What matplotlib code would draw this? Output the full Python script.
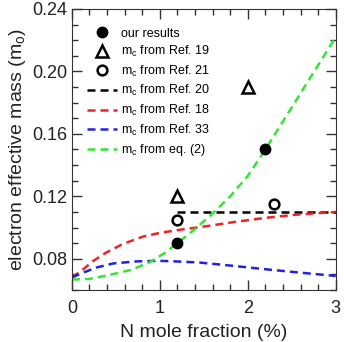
import numpy as np
import matplotlib
matplotlib.use('Agg')
import matplotlib.pyplot as plt
from matplotlib.ticker import MultipleLocator

plt.rcParams['font.family'] = 'Liberation Sans'
plt.rcParams['mathtext.default'] = 'regular'

# our results
ours_x = [1.2, 2.2]
ours_y = [0.090, 0.150]
# Ref. 19 (triangles)
ref19_x = [1.2, 2.0]
ref19_y = [0.120, 0.190]
# Ref. 21 (open circles)
ref21_x = [1.2, 2.3]
ref21_y = [0.105, 0.115]
# Ref. 20 (black dashed)
ref20_x = [1.2, 3.0]
ref20_y = [0.110, 0.110]
# Ref. 18 (red dashed)
ref18_x = [0.0, 0.13, 0.24, 0.39, 0.58, 0.81, 1.0, 1.22, 1.45, 1.83, 2.2, 2.58, 3.0]
ref18_y = [0.068, 0.0733, 0.0785, 0.084, 0.0895, 0.0942, 0.0966, 0.0985, 0.1002, 0.1034, 0.1062, 0.1084, 0.110]
# Ref. 33 (blue dashed)
ref33_x = [0.0, 0.13, 0.28, 0.47, 0.73, 0.96, 1.11, 1.45, 1.83, 2.2, 2.58, 3.0]
ref33_y = [0.068, 0.0712, 0.0744, 0.077, 0.0783, 0.0787, 0.0785, 0.0776, 0.0755, 0.0733, 0.0712, 0.069]
# eq. (2) (green dashed)
eq2_x = [0.0, 0.2, 0.43, 0.66, 0.88, 1.05, 1.2, 1.4, 1.6, 1.8, 2.0, 2.2, 2.4, 2.6, 2.8, 3.0]
eq2_y = [0.0667, 0.0671, 0.0697, 0.0727, 0.0776, 0.0835, 0.090, 0.099, 0.109, 0.120, 0.133, 0.150, 0.168, 0.186, 0.204, 0.222]

fig = plt.figure(figsize=(3.44, 3.42), dpi=100)
ax = fig.add_axes([0.209, 0.152, 0.767, 0.822])

dash = dict(linestyle=(0, (3.2, 2.0)), linewidth=1.8)
ax.plot(ours_x, ours_y, 'o', color='black', markersize=7.5, label='our results', zorder=5)
ax.plot(ref19_x, ref19_y, '^', color='black', markerfacecolor='none', markeredgewidth=1.8,
        markersize=8, label='m$_c$ from Ref. 19')
ax.plot(ref21_x, ref21_y, 'o', color='black', markerfacecolor='none', markeredgewidth=1.8,
        markersize=7, label='m$_c$ from Ref. 21')
ax.plot(ref20_x, ref20_y, color='black', label='m$_c$ from Ref. 20', **dash)
ax.plot(ref18_x, ref18_y, color='#ee2222', label='m$_c$ from Ref. 18', **dash)
ax.plot(ref33_x, ref33_y, color='#2222dd', label='m$_c$ from Ref. 33', **dash)
ax.plot(eq2_x, eq2_y, color='#33e633', label='m$_c$ from eq. (2)', **dash)

ax.set_xlim(0, 3)
ax.set_ylim(0.06, 0.24)
ax.xaxis.set_major_locator(MultipleLocator(1))
ax.xaxis.set_minor_locator(MultipleLocator(0.2))
ax.yaxis.set_minor_locator(MultipleLocator(0.01))
ax.set_yticks([0.08, 0.12, 0.16, 0.20, 0.24])
ax.set_yticklabels(['0.08', '0.12', '0.16', '0.20', '0.24'])
ax.tick_params(which='both', direction='in', top=True, right=True, colors='#333333',
               labelsize=13, labelcolor='#222222')
ax.tick_params(which='major', length=7, width=1)
ax.tick_params(which='minor', length=4, width=1)
ax.tick_params(axis='y', pad=3)
ax.tick_params(axis='x', pad=7)
for s in ax.spines.values():
    s.set_color('#333333')

ax.set_xlabel('N mole fraction (%)', fontsize=14, color='#222222', labelpad=5)
ax.set_ylabel('electron effective mass (m$_o$)', fontsize=14, color='#222222', labelpad=3)

ax.legend(loc='upper left', bbox_to_anchor=(0.03, 0.96), frameon=False, fontsize=9,
          handlelength=2.4, handletextpad=0.3, labelspacing=0.36, borderaxespad=0.2)

plt.savefig('out.png', dpi=100)
